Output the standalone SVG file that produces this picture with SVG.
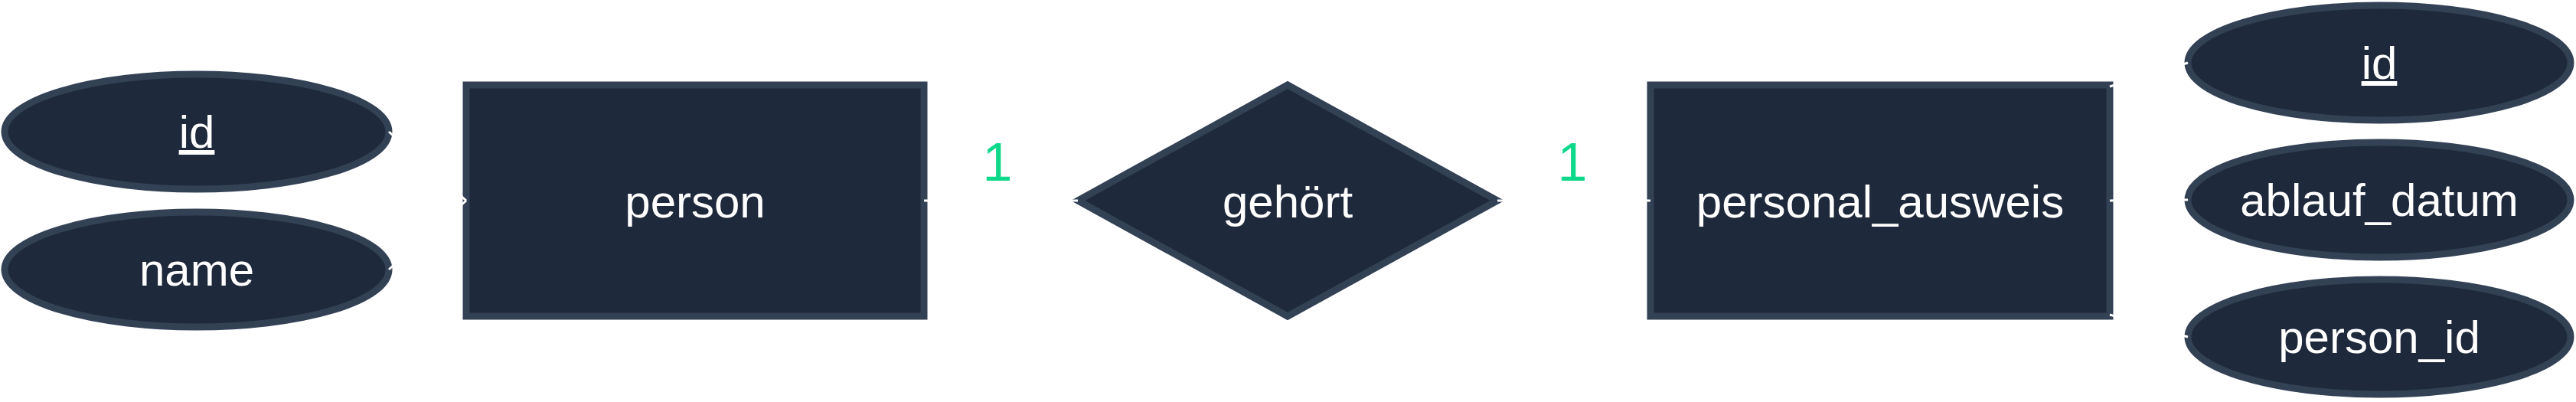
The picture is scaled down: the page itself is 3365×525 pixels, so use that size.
<svg xmlns="http://www.w3.org/2000/svg" width="3365" height="525" viewBox="0 0 3365 525">
<style>
.shape{fill:#1e293b;stroke:#334155;stroke-width:9}
.lbl{font-family:"Liberation Sans",Arial,sans-serif;font-size:60px;fill:#ffffff;text-anchor:middle}
.card{font-family:"Liberation Sans",Arial,sans-serif;font-size:70px;fill:#0ed98a;text-anchor:middle}
.conn{stroke:#ffffff;stroke-width:3;fill:none}
</style>
<rect width="3365" height="525" fill="#ffffff"/>
<g id="attr-person-id">
<ellipse class="shape" cx="257" cy="172" rx="251" ry="75"/>
<text class="lbl" x="257" y="193" text-decoration="underline">id</text>
</g>
<g id="attr-person-name">
<ellipse class="shape" cx="257" cy="352" rx="251" ry="75"/>
<text class="lbl" x="257" y="373">name</text>
</g>
<g id="entity-person">
<rect class="shape" x="609" y="111" width="598" height="302"/>
<text class="lbl" x="908" y="284">person</text>
</g>
<g id="rel-gehoert">
<polygon class="shape" points="1682,111 1956,262 1682,413 1408,262"/>
<text class="lbl" x="1682" y="284">gehört</text>
</g>
<g id="entity-personal_ausweis">
<rect class="shape" x="2156" y="111" width="600" height="302"/>
<text class="lbl" x="2456" y="284">personal_ausweis</text>
</g>
<g id="attr-pa-id">
<ellipse class="shape" cx="3108" cy="82" rx="250" ry="75"/>
<text class="lbl" x="3108" y="103" text-decoration="underline">id</text>
</g>
<g id="attr-pa-ablauf_datum">
<ellipse class="shape" cx="3108" cy="261" rx="250" ry="75"/>
<text class="lbl" x="3108" y="282">ablauf_datum</text>
</g>
<g id="attr-pa-person_id">
<ellipse class="shape" cx="3108" cy="440" rx="250" ry="75"/>
<text class="lbl" x="3108" y="461">person_id</text>
</g>
<g id="connectors">
<line class="conn" x1="508" y1="172" x2="609" y2="262"/>
<line class="conn" x1="508" y1="352" x2="609" y2="262"/>
<line class="conn" x1="1207" y1="262" x2="1408" y2="262"/>
<line class="conn" x1="1956" y1="262" x2="2156" y2="262"/>
<line class="conn" x1="2756" y1="113" x2="2858" y2="82"/>
<line class="conn" x1="2756" y1="262" x2="2858" y2="261"/>
<line class="conn" x1="2756" y1="411" x2="2858" y2="440"/>
<text class="card" x="1303" y="236">1</text>
<text class="card" x="2054" y="236">1</text>
</g>
</svg>
